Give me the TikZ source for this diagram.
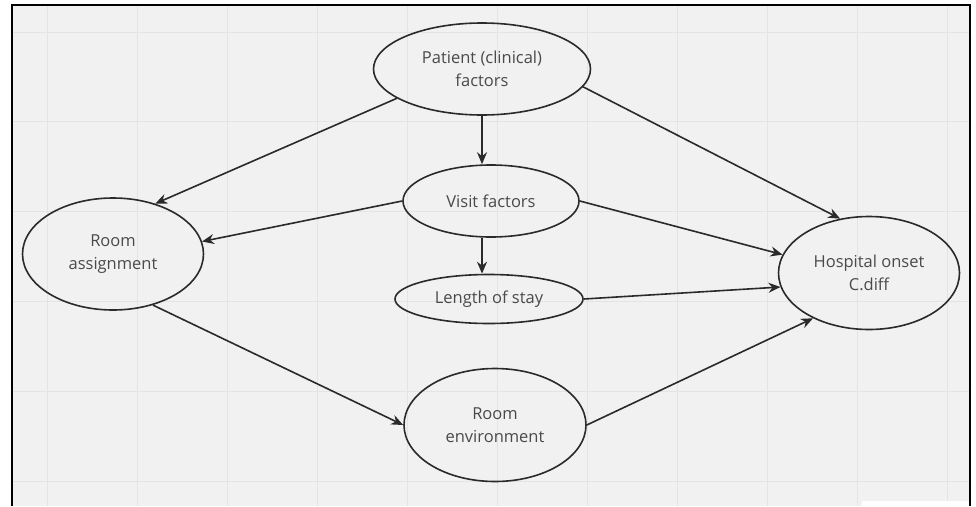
\documentclass[tikz,border=0pt]{standalone}
\usepackage{fontspec}
\setmainfont{Open Sans}
\usetikzlibrary{shapes.geometric,arrows.meta}
\definecolor{bgc}{HTML}{F1F1F1}
\definecolor{gridc}{HTML}{E4E4E4}
\definecolor{linec}{HTML}{2A2A2A}
\definecolor{textc}{HTML}{4A4A4A}
\tikzset{
  oval/.style={ellipse, draw=linec, line width=1.6pt, inner sep=0pt, align=center,
    text=textc, font=\fontsize{16.5}{23}\selectfont},
  arr/.style={draw=linec, line width=1.6pt, -{Stealth[length=12pt,width=10pt]}},
}
\begin{document}
\begin{tikzpicture}[x=1pt,y=-1pt]
\useasboundingbox (0,0) rectangle (976,506);
\fill[white] (0,0) rectangle (976,506);
\fill[bgc] (12,5) rectangle (970,506);
\foreach \gx in {47,137,...,947} \draw[gridc, line width=1pt] (\gx,6) -- (\gx,506);
\foreach \gy in {32,121.8,211.6,301.4,391.2,481} \draw[gridc, line width=1pt] (13,\gy) -- (969,\gy);
\fill[white] (862,501) rectangle (969,506);
\draw[black, line width=2pt] (12,506) -- (12,5) -- (970,5) -- (970,506);

\node[oval, minimum width=217pt, minimum height=92pt] (pat) at (482,69) {Patient (clinical)\\factors};
\node[oval, minimum width=176pt, minimum height=72pt] (vis) at (491,201) {Visit factors};
\node[oval, minimum width=188pt, minimum height=49pt] (los) at (489,299) {Length of stay};
\node[oval, minimum width=181pt, minimum height=112pt] (ra) at (113,254) {Room\\assignment};
\node[oval, minimum width=181pt, minimum height=113pt] (hos) at (869,273) {Hospital onset\\C.diff};
\node[oval, minimum width=182pt, minimum height=113pt] (re) at (495,425) {Room\\environment};

\draw[arr] (pat.199.5) -- (ra.50.5);
\draw[arr] (pat.south) -- (vis.north -| pat.south);
\draw[arr] (pat.350) -- (hos.118);
\draw[arr] (vis.west) -- (ra.8);
\draw[arr] (vis.east) -- (hos.168.3);
\draw[arr] (vis.south -| pat.south) -- (los.north -| pat.south);
\draw[arr] (los.east) -- (hos.189.8);
\draw[arr] (ra.308) -- (re.west);
\draw[arr] (re.east) -- (hos.219.8);
\end{tikzpicture}
\end{document}
